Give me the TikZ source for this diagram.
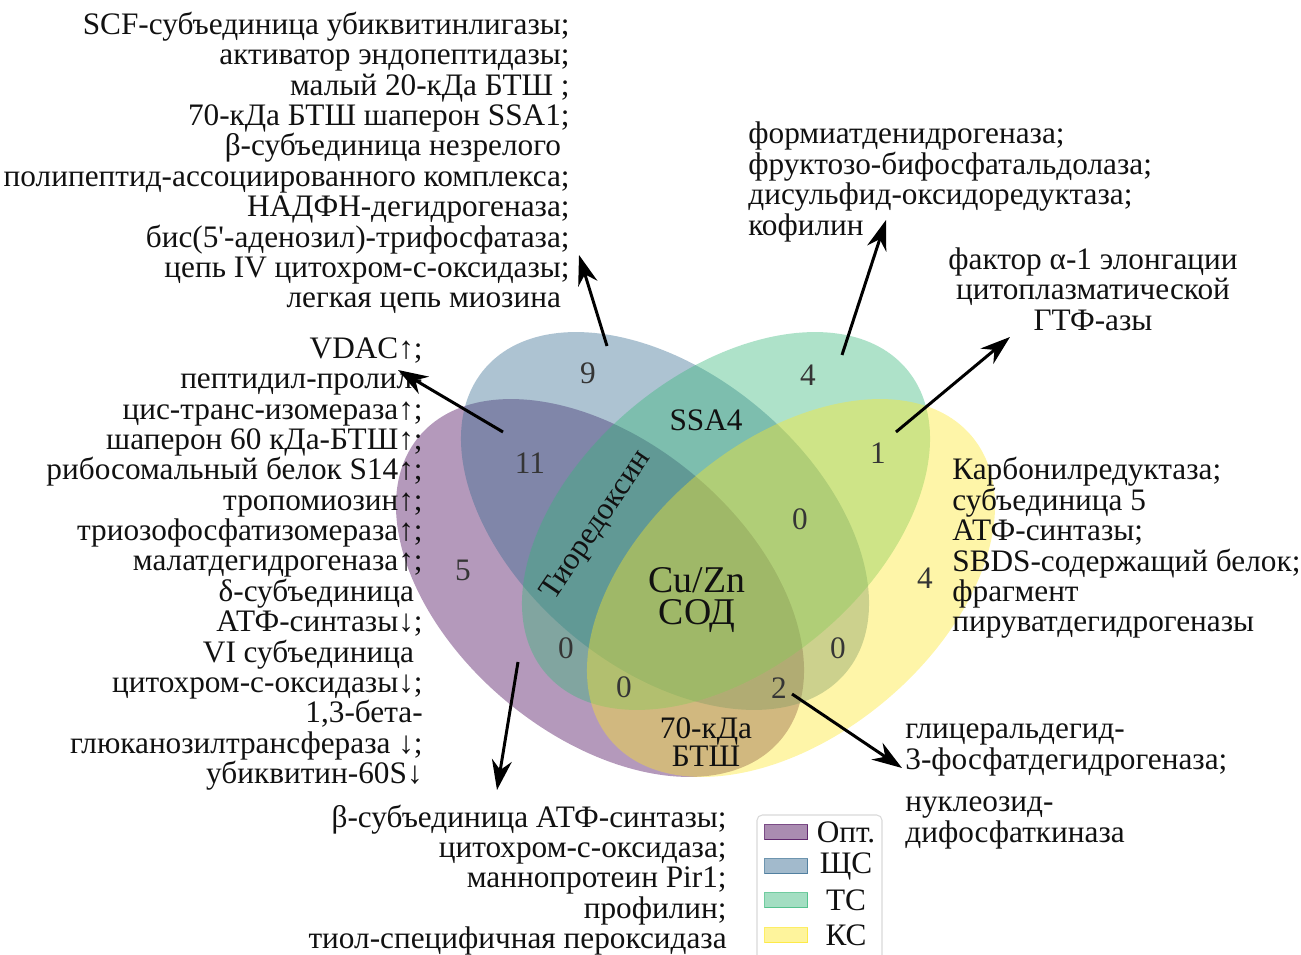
\documentclass[tikz,border=0pt]{standalone}
\usepackage{fontspec}
\setmainfont{Liberation Serif}[Ligatures=TeXOff]
\usetikzlibrary{arrows.meta}
\definecolor{vennPurple}{HTML}{440154}
\definecolor{vennBlue}{HTML}{31688E}
\definecolor{vennTeal}{HTML}{35B779}
\definecolor{vennYellow}{HTML}{FDE725}
\definecolor{vennInk}{HTML}{111111}
\definecolor{vennFrame}{HTML}{D9D9D9}
\tikzset{
  every picture/.style={font=\fontsize{17.8}{17.3}\selectfont, text=vennInk},
  venn set/.style={fill opacity=0.4},
  venn note/.style={inner sep=0pt},
  venn count/.style={inner sep=1pt, text=vennInk!85},
  venn name/.style={inner sep=1pt, align=center},
  venn big/.style={venn name, font=\fontsize{21.5}{18.5}\selectfont},
  venn arrow/.style={-{Stealth[length=6mm,width=4mm]}, draw=black, line width=1.7pt},
  venn key/.style={minimum width=0.86cm, minimum height=0.3cm, inner sep=0pt,
    fill opacity=0.45, draw opacity=0.7, line width=0.9pt},
  venn frame/.style={draw=vennFrame, line width=0.6pt, rounded corners=3pt}
}
\begin{document}
\begin{tikzpicture}[x=0.02cm,y=-0.02cm]
  \useasboundingbox (0,0) rectangle (1301,955);
  % the four sets
  \fill[vennPurple, venn set, rotate around={140:(600,588)}] (600,588) ellipse (236 and 147);
  \fill[vennBlue, venn set, rotate around={140:(665,521)}] (665,521) ellipse (236 and 147);
  \fill[vennTeal, venn set, rotate around={40:(726,521)}] (726,521) ellipse (236 and 147);
  \fill[vennYellow, venn set, rotate around={40:(791,588)}] (791,588) ellipse (236 and 147);

  % counts
  \node[venn count] (n9) at (588,373) {9};
  \node[venn count] (nTs) at (808,375) {4};
  \node[venn count] (n11) at (530,463) {11};
  \node[venn count] (n1) at (878,453) {1};
  \node[venn count] (n5) at (463,570) {5};
  \node[venn count] (nKs) at (925,578) {4};
  \node[venn count] (z1) at (800,519) {0};
  \node[venn count] (z2) at (566,648) {0};
  \node[venn count] (z3) at (838,648) {0};
  \node[venn count] (z4) at (624,687) {0};
  \node[venn count] (n2) at (779,688) {2};
  \node[venn name] (ssa) at (706,420) {SSA4};
  \node[venn name, rotate=56, inner sep=0pt] (thio) at (597,526) {Тиоредоксин};
  \node[venn big] (sod) at (697,600) {Cu/Zn\\СОД};
  \node[venn name, font=\fontsize{17.8}{16}\selectfont] (hsp) at (706,742) {70-кДа\\БТШ};

  % protein lists
  \node[venn note, anchor=east, align=right] (tl) at (570,163) {SCF-субъединица убиквитинлигазы;\\
    активатор эндопептидазы;\\ малый 20-кДа БТШ ;\\ 70-кДа БТШ шаперон SSA1;\\
    β-субъединица незрелого\phantom{;}\\ полипептид-ассоциированного комплекса;\\
    НАДФН-дегидрогеназа;\\ бис(5'-аденозил)-трифосфатаза;\\ цепь IV цитохром-с-оксидазы;\\
    легкая цепь миозина\phantom{;}};
  \node[venn note, anchor=east, align=right] (ml) at (423,564) {VDAC↑;\\ пептидил-пролил-\\
    цис-транс-изомераза↑;\\ шаперон 60 кДа-БТШ↑;\\ рибосомальный белок S14↑;\\
    тропомиозин↑;\\ триозофосфатизомераза↑;\\ малатдегидрогеназа↑;\\
    δ-субъединица\phantom{;}\\ АТФ-синтазы↓;\\ VI субъединица\phantom{;}\\
    цитохром-с-оксидазы↓;\\ 1,3-бета-\\ глюканозилтрансфераза ↓;\\ убиквитин-60S↓};
  \node[venn note, anchor=west, align=left] (tr) at (748,182) {формиатденидрогеназа;\\
    фруктозо-бифосфатальдолаза;\\ дисульфид-оксидоредуктаза;\\ кофилин};
  \node[venn note, align=center] (fr) at (1093,289) {фактор α-1 элонгации\\
    цитоплазматической\\ ГТФ-азы};
  \node[venn note, anchor=west, align=left] (rr) at (952,548) {Карбонилредуктаза;\\
    субъединица 5\\ АТФ-синтазы;\\ SBDS-содержащий белок;\\ фрагмент\\ пируватдегидрогеназы};
  \node[venn note, anchor=west, align=left] (br) at (905,750) {глицеральдегид-\\
    3-фосфатдегидрогеназа;};
  \node[venn note, anchor=west, align=left] (nd) at (905,823) {нуклеозид-\\ дифосфаткиназа};
  \node[venn note, anchor=east, align=right] (bl) at (727,880) {β-субъединица АТФ-синтазы;\\
    цитохром-с-оксидаза;\\ маннопротеин Pir1;\\ профилин;\\ тиол-специфичная пероксидаза};

  % arrows from the regions to their lists
  \coordinate (a9) at (607,346);   \coordinate (h9) at (579,255);
  \coordinate (a11) at (503,432);  \coordinate (h11) at (398,370);
  \coordinate (aTs) at (842,355);  \coordinate (hTs) at (886,220);
  \coordinate (a1) at (896,432);   \coordinate (h1) at (1010,337);
  \coordinate (a5) at (518,662);   \coordinate (h5) at (497,790);
  \coordinate (a2) at (792,694);   \coordinate (h2) at (902,768);
  \foreach \s/\e in {a9/h9, a11/h11, aTs/hTs, a1/h1, a5/h5, a2/h2}
    \draw[venn arrow] (\s) -- (\e);

  % legend
  \draw[venn frame, fill=white] (757,815) rectangle (882,975);
  \foreach \col/\lab/\y [count=\i] in {vennPurple/Опт./832, vennBlue/ЩС/866,
      vennTeal/ТС/900, vennYellow/КС/935} {
    \node[venn key, fill=\col, draw=\col] (key\i) at (786,\y) {};
    \node[venn note] (lab\i) at (846,\y) {\lab};
  }
\end{tikzpicture}
\end{document}
